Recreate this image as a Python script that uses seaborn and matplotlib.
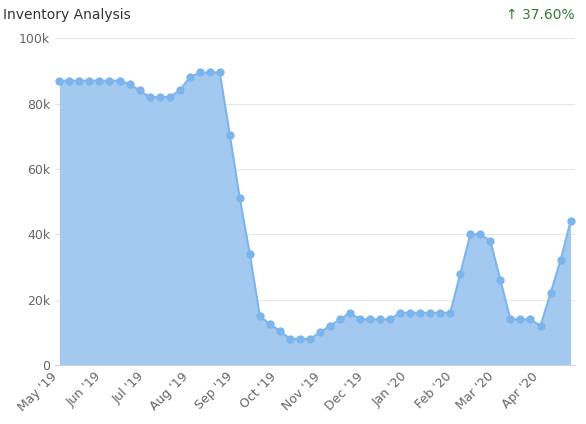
import matplotlib
matplotlib.use("Agg")
from matplotlib import pyplot as plt
import matplotlib.dates as mdates
import seaborn as sns
import pandas as pd

start_date = "2019-05-01"
inventory = [87, 87, 87, 87, 87, 87, 87, 86, 84, 82, 82, 82, 84, 88, 89.5, 89.5, 89.5,
             70.5, 51, 34, 15, 12.5, 10.5, 8, 8, 8, 10, 12, 14, 16, 14, 14, 14, 14,
             16, 16, 16, 16, 16, 16, 28, 40, 40, 38, 26, 14, 14, 14, 12, 22, 32, 44]
inventory = [v * 1000 for v in inventory]
dates = pd.date_range(start_date, periods=len(inventory), freq="7D")
df = pd.DataFrame({"date": dates, "inventory": inventory})

sns.set_style("white")
fig = plt.figure(figsize=(5.86, 4.24), dpi=100)
ax = fig.add_axes([0.094, 0.139, 0.887, 0.771])

blue = "#7cb5ec"
ax.fill_between(df["date"], df["inventory"], color="#a3c9f0", alpha=1, lw=0)
sns.lineplot(data=df, x="date", y="inventory", ax=ax, color=blue, lw=1.5,
             marker="o", markersize=6, markeredgewidth=0)

ax.set_ylim(0, 100000)
ax.set_xlim(dates[0] - pd.Timedelta(days=3), dates[-1] + pd.Timedelta(days=3))
ax.set_yticks(range(0, 100001, 20000))
ax.set_yticklabels(["0", "20k", "40k", "60k", "80k", "100k"], color="#666666", fontsize=9)
ax.xaxis.set_major_locator(mdates.MonthLocator())
ax.xaxis.set_major_formatter(mdates.DateFormatter("%b '%y"))
plt.setp(ax.get_xticklabels(), rotation=45, ha="right", fontsize=9, color="#666666")
ax.grid(axis="y", color="#e6e6e6", lw=0.8)
ax.set_axisbelow(True)
ax.set_xlabel("")
ax.set_ylabel("")
for s in ["top", "right", "left"]:
    ax.spines[s].set_visible(False)
ax.spines["bottom"].set_color("#ccd6eb")
ax.tick_params(axis="both", length=0)

fig.text(0.005, 0.965, "Inventory Analysis", fontsize=10, color="#333333", va="center")
fig.text(0.98, 0.965, "↑ 37.60%", fontsize=10, color="#2e7d32", va="center", ha="right")

fig.savefig("out.png", dpi=100)
